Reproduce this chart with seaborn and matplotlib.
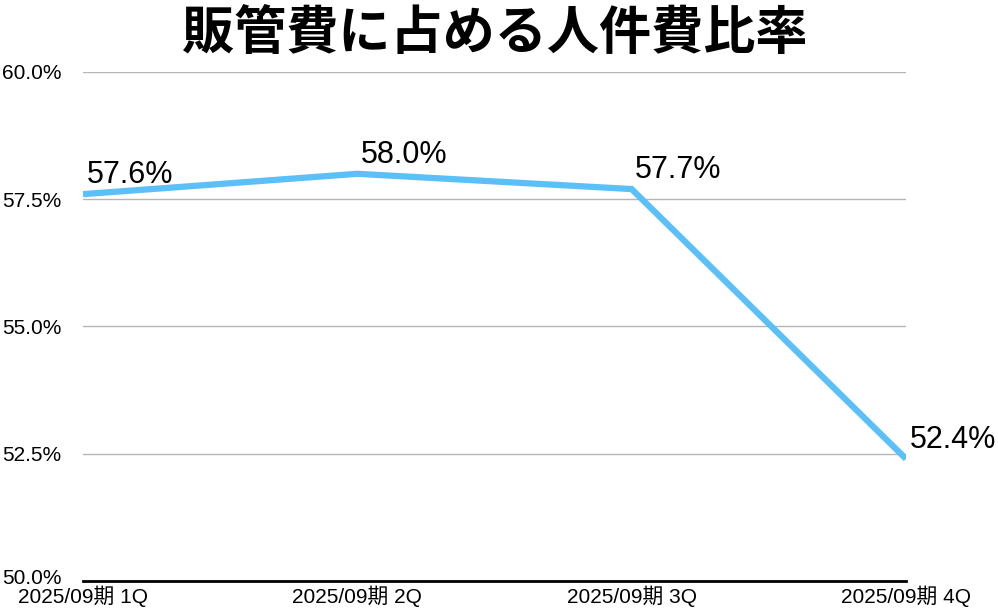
import matplotlib
matplotlib.use("Agg")
import matplotlib.pyplot as plt
import matplotlib.transforms as mtransforms
import seaborn as sns
import pandas as pd

periods = ["2025/09期 1Q", "2025/09期 2Q", "2025/09期 3Q", "2025/09期 4Q"]
ratios = [57.6, 58.0, 57.7, 52.4]
yticks = [50.0, 52.5, 55.0, 57.5, 60.0]

sns.set_style("white")
plt.rcParams["font.family"] = ["Liberation Sans", "Noto Sans CJK JP", "DejaVu Sans"]
plt.rcParams["text.color"] = "black"
plt.rcParams["xtick.color"] = "black"
plt.rcParams["ytick.color"] = "black"

df = pd.DataFrame({"period": periods, "ratio": ratios})
df["x"] = range(len(df))

fig = plt.figure(figsize=(9.98, 6.08), dpi=100)
ax = fig.add_axes([83 / 998, 27 / 608, 823 / 998, 509 / 608])

sns.lineplot(data=df, x="x", y="ratio", ax=ax, color="#5bbff8",
             linewidth=4.5, solid_joinstyle="miter", solid_capstyle="butt")

for _, r in df.iterrows():
    ax.annotate(f"{r['ratio']:.1f}%", (r["x"], r["ratio"]),
                xytext=(2.5, 3), textcoords="offset points",
                ha="left", va="bottom", fontsize=22, color="black")

ax.set_xlim(0, len(periods) - 1)
ax.set_ylim(yticks[0], yticks[-1])
ax.set_xticks(df["x"])
ax.set_xticklabels(periods)
ax.set_yticks(yticks)
ax.set_yticklabels([f"{v:.1f}%" for v in yticks])
ax.tick_params(axis="y", length=0, pad=58, labelsize=15)
ax.tick_params(axis="x", length=0, pad=3, labelsize=15)
for lab in ax.get_yticklabels():
    lab.set_horizontalalignment("left")
# lift the bottom label a little so it clears the first category label
lift = mtransforms.ScaledTranslation(0, 4 / 100, fig.dpi_scale_trans)
ax.yaxis.get_major_ticks()[0].label1.set_transform(
    ax.get_yaxis_text1_transform(58)[0] + lift)
ax.grid(axis="y", color="#b5b5b5", linewidth=1)
ax.set_xlabel("")
ax.set_ylabel("")
for side in ["top", "left", "right"]:
    ax.spines[side].set_visible(False)
ax.spines["bottom"].set_color("black")
ax.spines["bottom"].set_linewidth(2)
ax.set_zorder(1)

fig.text(0.496, 0.945, "販管費に占める人件費比率", ha="center", va="center",
         fontsize=37.5, fontweight="bold", family="Noto Sans CJK JP")

fig.savefig("out.png", dpi=100)
plt.close(fig)
